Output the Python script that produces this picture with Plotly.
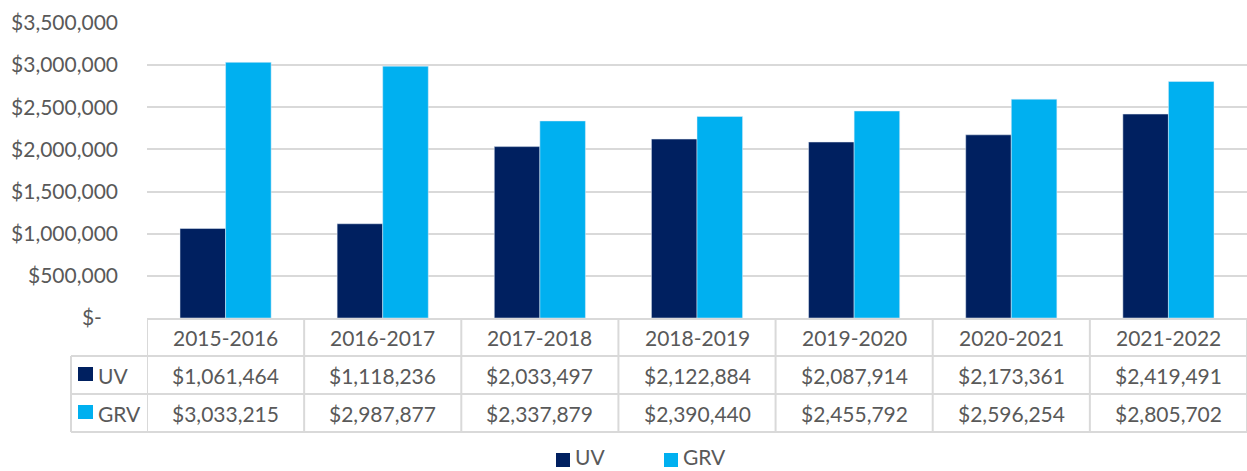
import plotly.graph_objects as go

categories = ["2015-2016", "2016-2017", "2017-2018", "2018-2019", "2019-2020", "2020-2021", "2021-2022"]
uv_values = [1061464, 1118236, 2033497, 2122884, 2087914, 2173361, 2419491]
grv_values = [3033215, 2987877, 2337879, 2390440, 2455792, 2596254, 2805702]
series_names = ["UV", "GRV"]
y_tickvals = [0, 500000, 1000000, 1500000, 2000000, 2500000, 3000000, 3500000]
y_ticktext = ["$-\u00a0\u00a0\u00a0", "$500,000", "$1,000,000", "$1,500,000", "$2,000,000",
              "$2,500,000", "$3,000,000", "$3,500,000"]

UV_COLOR = "#002060"
GRV_COLOR = "#00B0F0"
TEXT = "#595959"
GRID = "#D9D9D9"
FONT = "Lato"
FS = 21

W, H = 1247, 471
ML, MR, MT, MB = 147, 0, 23, 153
PH = H - MT - MB  # plot height in px
PW = W - ML - MR


def py(px_y):
    """pixel y -> paper y"""
    return (H - MB - px_y) / PH


def px(px_x):
    return (px_x - ML) / PW


fig = go.Figure()
fig.add_trace(go.Bar(name=series_names[0], x=categories, y=uv_values, marker_color=UV_COLOR, showlegend=False))
fig.add_trace(go.Bar(name=series_names[1], x=categories, y=grv_values, marker_color=GRV_COLOR, showlegend=False))

shapes = []
line = dict(color=GRID, width=2)
# horizontal table lines
shapes.append(dict(type="line", xref="paper", yref="paper", x0=0, x1=1, y0=py(319), y1=py(319), line=line))
for yy in [356, 394, 432]:
    shapes.append(dict(type="line", xref="paper", yref="paper", x0=px(71), x1=1, y0=py(yy), y1=py(yy), line=line))
# vertical table lines
for k in range(len(categories) + 1):
    shapes.append(dict(type="line", xref="x", yref="paper", x0=k - 0.5, x1=k - 0.5,
                       y0=py(319), y1=py(432), line=line))
shapes.append(dict(type="line", xref="paper", yref="paper", x0=px(71), x1=px(71),
                   y0=py(356), y1=py(432), line=line))
# legend keys in table
shapes.append(dict(type="rect", xref="paper", yref="paper", x0=px(78), x1=px(93),
                   y0=py(381), y1=py(367), fillcolor=UV_COLOR, line=dict(width=0)))
shapes.append(dict(type="rect", xref="paper", yref="paper", x0=px(78), x1=px(93),
                   y0=py(419), y1=py(405), fillcolor=GRV_COLOR, line=dict(width=0)))
# bottom legend keys
shapes.append(dict(type="rect", xref="paper", yref="paper", x0=px(556), x1=px(570),
                   y0=py(467), y1=py(453), fillcolor=UV_COLOR, line=dict(width=0)))
shapes.append(dict(type="rect", xref="paper", yref="paper", x0=px(664), x1=px(678),
                   y0=py(467), y1=py(453), fillcolor=GRV_COLOR, line=dict(width=0)))

ann = []
font = dict(family=FONT, size=FS, color=TEXT)
for i, c in enumerate(categories):
    ann.append(dict(x=c, xref="x", y=py(337.5), yref="paper", text=c, showarrow=False, font=font,
                    xanchor="center", yanchor="middle"))
    ann.append(dict(x=c, xref="x", y=py(375), yref="paper", text=f"${uv_values[i]:,}", showarrow=False,
                    font=font, xanchor="center", yanchor="middle"))
    ann.append(dict(x=c, xref="x", y=py(413), yref="paper", text=f"${grv_values[i]:,}", showarrow=False,
                    font=font, xanchor="center", yanchor="middle"))
ann.append(dict(x=px(96), xref="paper", y=py(375), yref="paper", text=series_names[0], showarrow=False,
                font=font, xanchor="left", yanchor="middle"))
ann.append(dict(x=px(96), xref="paper", y=py(413), yref="paper", text=series_names[1], showarrow=False,
                font=font, xanchor="left", yanchor="middle"))
ann.append(dict(x=px(574), xref="paper", y=py(470), yref="paper", text=series_names[0], showarrow=False,
                font=font, xanchor="left", yanchor="bottom", borderpad=0))
ann.append(dict(x=px(682), xref="paper", y=py(470), yref="paper", text=series_names[1], showarrow=False,
                font=font, xanchor="left", yanchor="bottom", borderpad=0))

fig.update_layout(
    width=W, height=H,
    margin=dict(l=ML, r=MR, t=MT, b=MB, pad=0, autoexpand=False),
    paper_bgcolor="white", plot_bgcolor="white",
    barmode="group", bargap=0.42, bargroupgap=0,
    font=dict(family=FONT, size=FS, color=TEXT),
    shapes=shapes, annotations=ann,
    showlegend=False,
)
fig.update_xaxes(showticklabels=False, showgrid=False, zeroline=False, showline=False,
                 range=[-0.5, len(categories) - 0.5], automargin=False)
fig.update_yaxes(range=[0, 3500000], tickvals=y_tickvals, ticktext=y_ticktext, showgrid=True,
                 gridcolor=GRID, gridwidth=2, zeroline=False, showline=False, ticks="",
                 ticklabelstandoff=28, tickfont=dict(family=FONT, size=FS, color=TEXT), automargin=False)

fig.write_html("out.html", config={"displayModeBar": False},
               post_script="document.body.style.margin='0';document.body.style.overflow='hidden';")
